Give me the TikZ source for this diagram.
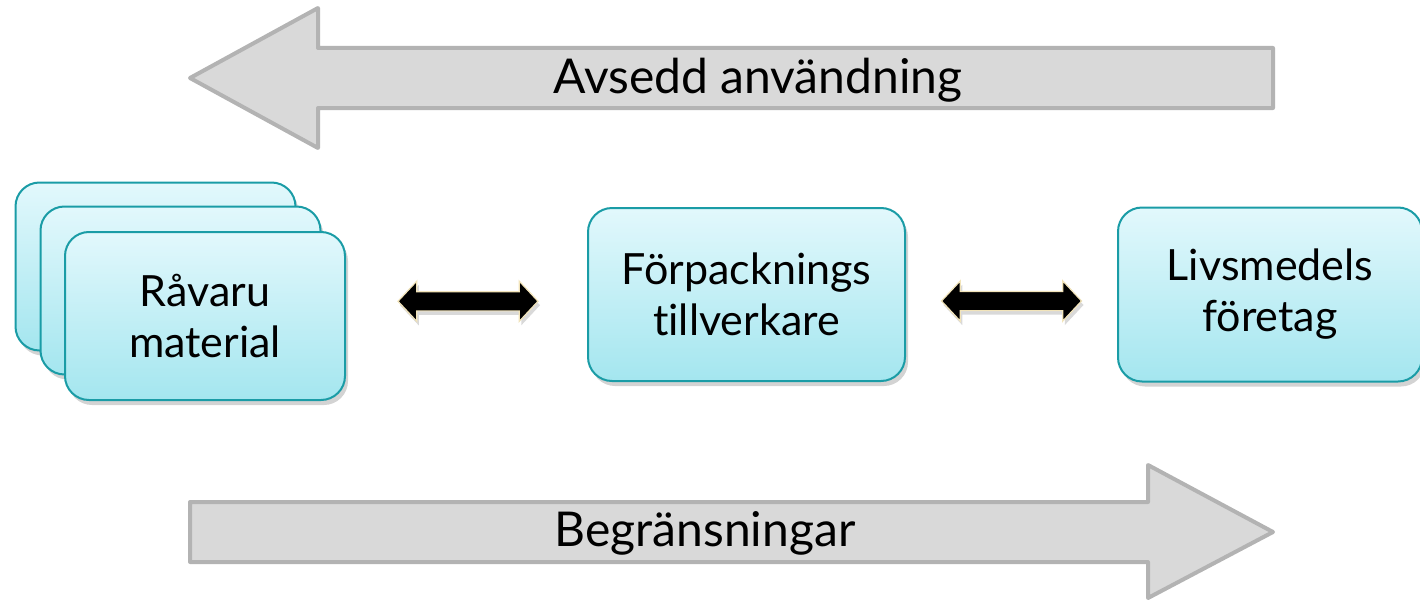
\documentclass[tikz,border=0pt]{standalone}
\usepackage{fontspec}
\setmainfont{Lato}[Ligatures=NoCommon]
\usetikzlibrary{positioning, shapes.arrows, shadows, calc}
\definecolor{boxtop}{HTML}{E2F8FC}
\definecolor{boxbot}{HTML}{A4E6EF}
\definecolor{boxline}{HTML}{1A9CA6}
\definecolor{flowfill}{HTML}{D9D9D9}
\definecolor{flowline}{HTML}{B3B3B3}
\definecolor{rim}{HTML}{F2E4BA}
\tikzset{
  every node/.style={font=\fontsize{43}{51}\selectfont},
  actor/.style={draw=boxline, line width=2pt, rounded corners=24pt,
    top color=boxtop, bottom color=boxbot, align=center,
    minimum width=280pt, minimum height=168pt,
    drop shadow={opacity=.35, shadow xshift=3pt, shadow yshift=-5pt}},
  link/.style={double arrow, fill=black, draw=rim, line width=1.2pt,
    minimum height=140pt, inner sep=9pt,
    double arrow head extend=10.5pt, double arrow tip angle=94,
    drop shadow={opacity=.3, shadow xshift=2pt, shadow yshift=-4pt}},
  flow/.style={fill=flowfill, draw=flowline, line width=4pt, line join=round},
  flowtext/.style={font=\fontsize{48}{56}\selectfont},
}

\begin{document}
\begin{tikzpicture}[x=1pt, y=-1pt]
\useasboundingbox (0,0) rectangle (1420,602);
% big grey arrows
    \draw[flow] (190,78) -- (318,8) -- (318,48) -- (1273,48) -- (1273,108)
        -- (318,108) -- (318,148) -- cycle;
    \node[flowtext] (use) at (758,80) {Avsedd användning};
    \draw[flow] (1273,532) -- (1148,465) -- (1148,502) -- (190,502) -- (190,562)
        -- (1148,562) -- (1148,598) -- cycle;
    \node[flowtext] (limit) at (705,533) {Begränsningar};
% stacked raw material boxes
    \node[actor] (raw3) at (155.5,266.5) {};
    \node[actor] (raw2) at (180.5,290.5) {};
    \node[actor] (raw) at (205,316) {Råvaru\\material};
    \node[actor, minimum width=317pt, minimum height=173pt,
        right=241pt of raw, yshift=21.5pt] (pack) {Förpacknings\\tillverkare};
    \node[actor, minimum width=304pt, minimum height=174pt,
        right=211pt of pack] (food) {Livsmedels\\företag};
% links between the actors
    \node[link] (l1) at ($(raw.east)!.5!(pack.west)+(1.5,-4)$) {};
    \node[link] (l2) at ($(pack.east)!.5!(food.west)+(0,6.5)$) {};
\end{tikzpicture}
\end{document}
